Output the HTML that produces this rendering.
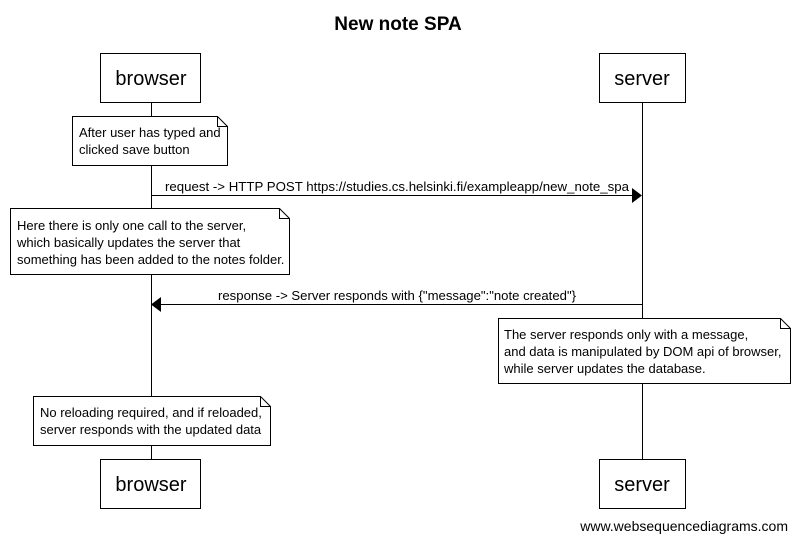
<!DOCTYPE html>
<html><head><meta charset="utf-8"><style>
body{margin:0;background:#fff}
svg{display:block}
text{font-family:"Liberation Sans",sans-serif;fill:#000}
</style></head><body>
<svg width="797" height="541" viewBox="0 0 797 541" xmlns="http://www.w3.org/2000/svg">
<rect width="797" height="541" fill="#fff"/>
<text x="398" y="30" font-size="19" font-weight="bold" text-anchor="middle">New note SPA</text>
<g stroke="#000" stroke-width="1" fill="#fff">
<line x1="151.5" y1="102" x2="151.5" y2="459"/>
<line x1="642.5" y1="102" x2="642.5" y2="459"/>
<rect x="100.5" y="53.5" width="100" height="49"/>
<rect x="599.5" y="53.5" width="86" height="49"/>
<rect x="100.5" y="459.5" width="100" height="49"/>
<rect x="599.5" y="459.5" width="86" height="49"/>
<path d="M72.5 116.5 H217.5 L227.5 126.5 V165.5 H72.5 Z"/>
<path d="M217.5 116.5 V126.5 H227.5" fill="none"/>
<path d="M10.5 208.5 H279.5 L289.5 218.5 V274.5 H10.5 Z"/>
<path d="M279.5 208.5 V218.5 H289.5" fill="none"/>
<path d="M498.5 318.5 H780.5 L790.5 328.5 V383.5 H498.5 Z"/>
<path d="M780.5 318.5 V328.5 H790.5" fill="none"/>
<path d="M33.5 396.5 H260.5 L270.5 406.5 V445.5 H33.5 Z"/>
<path d="M260.5 396.5 V406.5 H270.5" fill="none"/>
<line x1="151" y1="195.5" x2="634" y2="195.5"/>
<line x1="160" y1="304.5" x2="642" y2="304.5"/>
</g>
<path d="M642 195.5 L632 188 L632 203 Z" fill="#000"/>
<path d="M151 304.5 L161 297 L161 312 Z" fill="#000"/>
<g font-size="20" text-anchor="middle">
<text x="151" y="85">browser</text>
<text x="642" y="85">server</text>
<text x="151" y="491">browser</text>
<text x="642" y="491">server</text>
</g>
<g font-size="13">
<text x="79" y="137">After user has typed and</text>
<text x="79" y="154">clicked save button</text>
<text x="17" y="230">Here there is only one call to the server,</text>
<text x="17" y="247">which basically updates the server that</text>
<text x="17" y="264">something has been added to the notes folder.</text>
<text x="504" y="339">The server responds only with a message,</text>
<text x="504" y="356">and data is manipulated by DOM api of browser,</text>
<text x="504" y="373">while server updates the database.</text>
<text x="40" y="417">No reloading required, and if reloaded,</text>
<text x="40" y="434">server responds with the updated data</text>
<text x="165" y="191" textLength="464" lengthAdjust="spacingAndGlyphs">request -&gt; HTTP POST https://studies.cs.helsinki.fi/exampleapp/new_note_spa</text>
<text x="218" y="300" textLength="358" lengthAdjust="spacingAndGlyphs">response -&gt; Server responds with {"message":"note created"}</text>
</g>
<text x="788" y="531" font-size="14" text-anchor="end">www.websequencediagrams.com</text>
</svg>
</body></html>
